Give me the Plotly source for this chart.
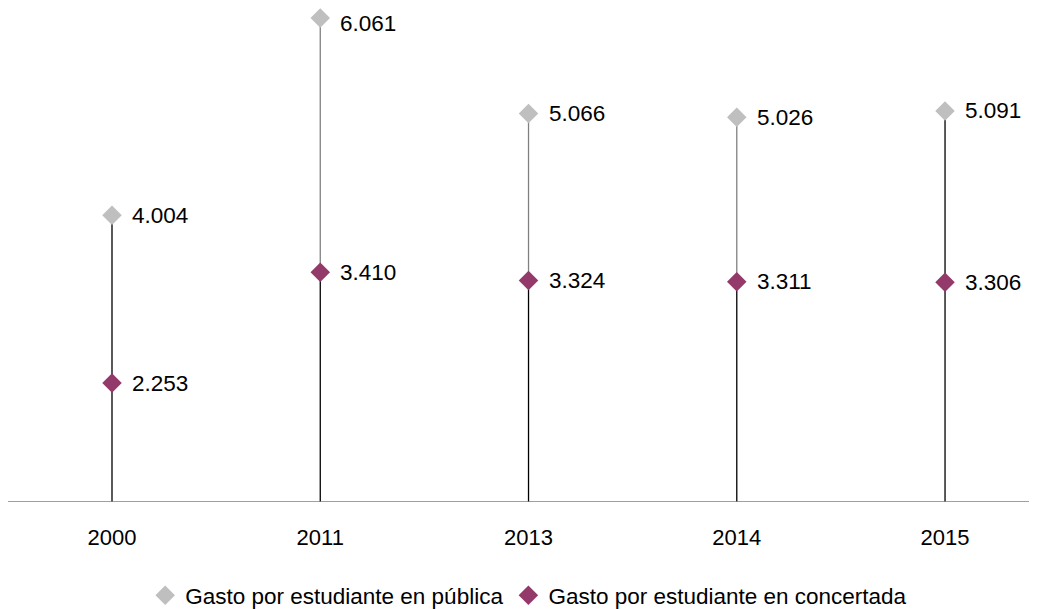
import plotly.graph_objects as go

years = ["2000", "2011", "2013", "2014", "2015"]
publica = [4.004, 6.061, 5.066, 5.026, 5.091]
concertada = [2.253, 3.410, 3.324, 3.311, 3.306]
upper_line_colors = ["#000000", "#808080", "#808080", "#808080", "#000000"]

FONT = "Liberation Sans, Arial, sans-serif"
Y0 = 1.013
xs = list(range(len(years)))

fig = go.Figure()

# lower segments (axis to concertada) in black
lx, ly = [], []
for i, v in zip(xs, concertada):
    lx += [i, i, None]
    ly += [Y0, v, None]
fig.add_trace(go.Scatter(x=lx, y=ly, mode="lines", line=dict(color="#000000", width=1.3),
                         showlegend=False, hoverinfo="skip"))

# upper segments (concertada to publica)
for i, (c, p, col) in enumerate(zip(concertada, publica, upper_line_colors)):
    fig.add_trace(go.Scatter(x=[i, i], y=[c, p], mode="lines", line=dict(color=col, width=1.3),
                             showlegend=False, hoverinfo="skip"))

fig.add_trace(go.Scatter(x=xs, y=publica, mode="markers", name="Gasto por estudiante en pública",
                         marker=dict(symbol="diamond", size=15, color="#BFBFBF")))
fig.add_trace(go.Scatter(x=xs, y=concertada, mode="markers", name="Gasto por estudiante en concertada",
                         marker=dict(symbol="diamond", size=15, color="#943A6B")))

def fmt(v):
    return f"{v:.3f}"

YMAX = 6.165
for i in xs:
    for v in (publica[i], concertada[i]):
        # keep the label box inside the page when the point sits near the top edge
        ys = -6 if v > YMAX - 0.2 else 0
        fig.add_annotation(x=i, y=v, text=fmt(v), showarrow=False, xanchor="left",
                           yanchor="middle", xshift=18, yshift=ys,
                           font=dict(family=FONT, size=22.5, color="#000000"))

fig.update_layout(
    width=1037, height=609,
    margin=dict(l=0, r=10, t=0, b=115),
    paper_bgcolor="white", plot_bgcolor="white",
    font=dict(family=FONT, size=22, color="#000000"),
    showlegend=True,
    legend=dict(orientation="h", x=0.507, xanchor="center", y=-0.19, yanchor="middle",
                font=dict(family=FONT, size=22.5, color="#000000"), itemwidth=30,
                tracegroupgap=0),
)
fig.update_xaxes(range=[-0.4994, 4.432], tickmode="array", tickvals=xs, ticktext=years,
                 showgrid=False, zeroline=False, showline=False, ticks="",
                 tickfont=dict(family=FONT, size=22), ticklabelstandoff=20)
fig.update_yaxes(range=[Y0, YMAX], showgrid=False, zeroline=False, showticklabels=False,
                 showline=False, ticks="")
fig.add_shape(type="line", xref="paper", yref="y", x0=0, x1=1, y0=Y0, y1=Y0,
              line=dict(color="#808080", width=1.5))

fig.write_html("out.html")
